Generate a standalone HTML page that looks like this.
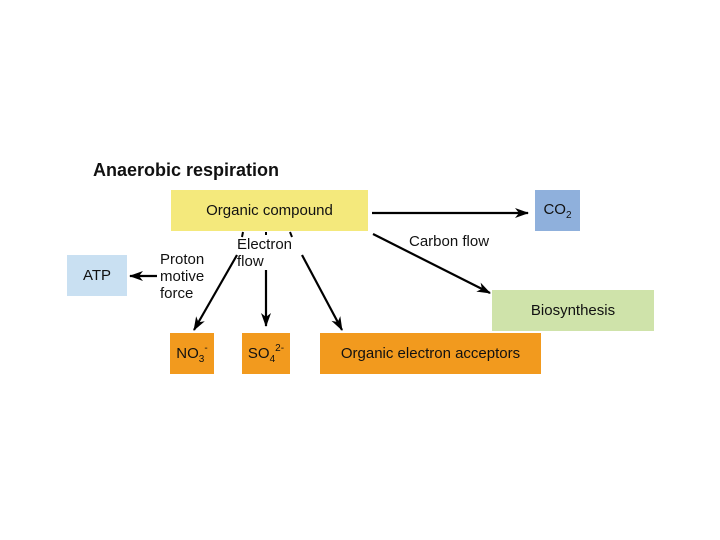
<!DOCTYPE html>
<html><head><style>
body{margin:0;width:720px;height:540px;background:#fff;font-family:"Liberation Sans",sans-serif;position:relative;overflow:hidden}
.b{position:absolute;display:flex;align-items:center;justify-content:center;font-size:15px;color:#111}
.t{position:absolute;font-size:15px;color:#111;line-height:17px}
sub{font-size:10px;vertical-align:-4px}
sup{font-size:10px;vertical-align:7px}
</style></head><body>
<div class="t" style="left:93px;top:162px;font-size:18px;font-weight:bold">Anaerobic respiration</div>
<div class="b" style="left:171px;top:190px;width:197px;height:41px;background:#f4e97c"><span>Organic compound</span></div>
<div class="b" style="left:535px;top:190px;width:45px;height:41px;background:#8fb0dc"><span>CO<sub>2</sub></span></div>
<div class="b" style="left:67px;top:255px;width:60px;height:41px;background:#c9e0f2"><span>ATP</span></div>
<div class="b" style="left:492px;top:290px;width:162px;height:41px;background:#cfe3aa"><span>Biosynthesis</span></div>
<div class="b" style="left:170px;top:333px;width:44px;height:41px;background:#f29a1e"><span>NO<sub>3</sub><sup>-</sup></span></div>
<div class="b" style="left:242px;top:333px;width:48px;height:41px;background:#f29a1e"><span>SO<sub>4</sub><sup>2-</sup></span></div>
<div class="b" style="left:320px;top:333px;width:221px;height:41px;background:#f29a1e"><span>Organic electron acceptors</span></div>
<div class="t" style="left:160px;top:251px">Proton<br>motive<br>force</div>
<div class="t" style="left:237px;top:236px">Electron<br>flow</div>
<div class="t" style="left:409px;top:233px">Carbon flow</div>
<svg width="720" height="540" style="position:absolute;left:0;top:0">
<defs><marker id="a" markerWidth="14" markerHeight="10" refX="13" refY="5" orient="auto" markerUnits="userSpaceOnUse"><path d="M0,0L14,5L0,10L4,5z" fill="#000"/></marker></defs>
<g stroke="#000" stroke-width="2.2" fill="none" marker-end="url(#a)">
<line x1="372" y1="213" x2="528" y2="213"/>
<line x1="373" y1="234" x2="490" y2="293"/>
<line x1="237" y1="255" x2="194" y2="330"/>
<line x1="266" y1="270" x2="266" y2="326"/>
<line x1="302" y1="255" x2="342" y2="330"/>
<line x1="157" y1="276" x2="130" y2="276"/>
</g>
<g stroke="#000" stroke-width="2"><line x1="243" y1="232" x2="242" y2="237"/><line x1="290" y1="232" x2="292" y2="237"/><line x1="266" y1="232" x2="266" y2="235"/></g>
</svg>
</body></html>
